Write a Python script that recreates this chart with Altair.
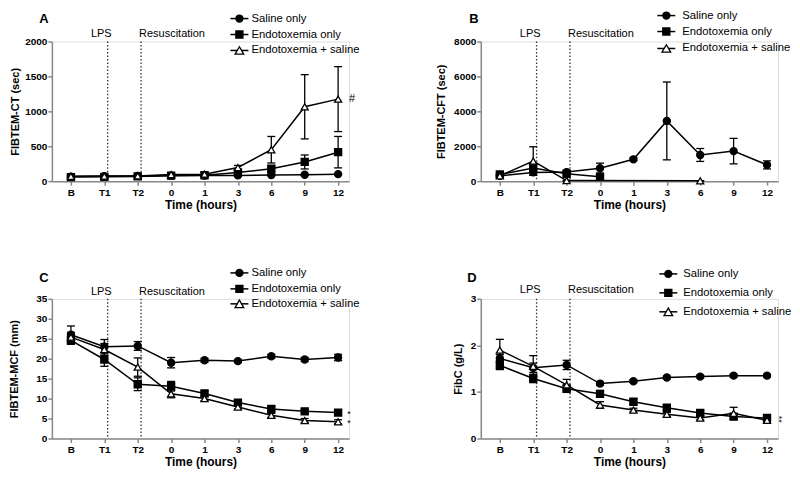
import altair as alt
import pandas as pd

# ---------------- data ----------------
time_labels = ["B", "T1", "T2", "0", "1", "3", "6", "9", "12"]
series_names = ["Saline only", "Endotoxemia only", "Endotoxemia + saline"]

# Panel A: FIBTEM-CT (sec)
ct_saline = [65, 70, 75, 80, 80, 82, 88, 92, 100]
ct_saline_sd = [15, 12, 12, 12, 10, 10, 10, 10, 10]
ct_endo = [58, 62, 68, 78, 85, 125, 178, 275, 415]
ct_endo_sd = [15, 12, 12, 15, 15, 25, 40, 100, 225]
ct_es = [70, 72, 75, 95, 100, 195, 450, 1065, 1175]
ct_es_sd = [20, 15, 15, 20, 25, 30, 190, 460, 465]

# Panel B: FIBTEM-CFT (sec)
cft_saline = [300, 500, 520, 740, 1250, 3450, 1500, 1720, 930]
cft_saline_sd = [80, 150, 100, 290, 80, 2230, 370, 730, 230]
cft_endo = [380, 750, 420, 250, None, None, None, None, None]
cft_endo_sd = [60, 250, 100, 80, None, None, None, None, None]
cft_es = [300, 1150, 30, None, None, None, 20, None, None]
cft_es_sd = [60, 820, 20, None, None, None, 10, None, None]

# Panel C: FIBTEM-MCF (mm)
mcf_saline = [26.0, 23.0, 23.2, 19.0, 19.6, 19.4, 20.6, 19.8, 20.3]
mcf_saline_sd = [2.2, 1.8, 1.1, 1.3, 0.5, 0.4, 0.5, 0.5, 0.8]
mcf_endo = [24.6, 19.8, 13.6, 13.1, 11.3, 9.0, 7.4, 6.8, 6.5]
mcf_endo_sd = [1.0, 1.7, 1.6, 1.2, 0.6, 0.6, 0.6, 0.5, 0.6]
mcf_es = [25.4, 22.3, 17.9, 11.2, 10.0, 7.9, 5.8, 4.5, 4.2]
mcf_es_sd = [1.2, 1.5, 2.3, 1.0, 0.5, 0.5, 0.5, 0.5, 0.5]

# Panel D: FibC (g/L)
fib_saline = [1.72, 1.52, 1.58, 1.18, 1.23, 1.31, 1.33, 1.35, 1.35]
fib_saline_sd = [0.08, 0.10, 0.10, 0.04, 0.03, 0.03, 0.03, 0.03, 0.03]
fib_endo = [1.57, 1.29, 1.07, 0.96, 0.79, 0.66, 0.55, 0.47, 0.44]
fib_endo_sd = [0.09, 0.09, 0.08, 0.07, 0.06, 0.05, 0.05, 0.05, 0.05]
fib_es = [1.90, 1.55, 1.15, 0.72, 0.61, 0.52, 0.44, 0.54, 0.39]
fib_es_sd = [0.23, 0.23, 0.12, 0.07, 0.04, 0.04, 0.04, 0.13, 0.04]

event_x = [1.1, 2.1]          # LPS, Resuscitation (between time points)
event_labels = ["LPS", "Resuscitation"]

# ---------------- style ----------------
FONT = "Liberation Sans"
W, H = 298, 140
XDOM = [-0.57, 8.33]
shapes = ["circle", "square", "triangle-up"]
fills = ["black", "black", "white"]
sizes = [50, 50, 75]

label_expr = "[" + ",".join("'%s'" % l for l in time_labels) + "][datum.value]"


def make_df(means, sds):
    rows = []
    for s, m, sd in zip(series_names, means, sds):
        for i, (mv, sv) in enumerate(zip(m, sd)):
            if mv is None:
                continue
            rows.append(dict(series=s, t=i, mean=mv, sd=sv))
    return pd.DataFrame(rows)


def panel(letter, means, sds, ytitle, ymax, ystep, title_x, leg, letter_pos, ev_y, annots):
    df = make_df(means, sds)
    xscale = alt.Scale(domain=XDOM, nice=False, zero=False)
    xaxis = alt.Axis(values=list(range(len(time_labels))), labelExpr=label_expr,
                     title="Time (hours)", grid=False, tickSize=4, labelPadding=2,
                     titlePadding=2, labelFontSize=10, labelFontWeight="bold",
                     titleFontSize=12, titleFontWeight="bold", domainWidth=1.5,
                     tickWidth=1.5, labelAngle=0)
    yscale = alt.Scale(domain=[0, ymax], nice=False, zero=True)
    nticks = int(round(ymax / ystep))
    yvals = [ystep * k for k in range(nticks + 1)]
    yaxis = alt.Axis(values=yvals, title=ytitle, grid=False, tickSize=4, labelPadding=1,
                     labelFontSize=10, labelFontWeight="bold", titleFontSize=11,
                     titleFontWeight="bold", titleX=title_x, titleY=H / 2, titleAngle=270,
                     titleAlign="center", titleBaseline="middle", domainWidth=1.5,
                     tickWidth=1.5, format="d")

    def X(f):
        return alt.X(f, scale=xscale, axis=xaxis)

    def Y(f):
        return alt.Y(f, scale=yscale, axis=yaxis)

    shape_enc = alt.Shape("series:N", scale=alt.Scale(domain=series_names, range=shapes), legend=None)
    fill_enc = alt.Fill("series:N", scale=alt.Scale(domain=series_names, range=fills), legend=None)
    size_enc = alt.Size("series:N", scale=alt.Scale(domain=series_names, range=sizes), legend=None)

    base = alt.Chart(df)
    ev_df = pd.DataFrame({"x": event_x, "label": event_labels})

    layers = []
    # event dotted lines
    layers.append(alt.Chart(ev_df).mark_rule(color="#333333", strokeWidth=1.3, strokeDash=[1.5, 2]).encode(
        x=X("x:Q"), y=alt.value(0), y2=alt.value(H)))
    # lines
    layers.append(base.mark_line(color="black", strokeWidth=1.5).encode(
        x=X("t:Q"), y=Y("mean:Q"), detail="series:N", order="t:Q"))
    # error bars
    eb = base.transform_calculate(lo="datum.mean - datum.sd", hi="datum.mean + datum.sd",
                                  xl="datum.t - 0.12", xr="datum.t + 0.12")
    layers.append(eb.mark_rule(color="black", strokeWidth=1.3).encode(
        x=X("t:Q"), y=Y("lo:Q"), y2="hi:Q"))
    layers.append(eb.mark_rule(color="black", strokeWidth=1.3).encode(
        x=X("xl:Q"), x2="xr:Q", y=Y("hi:Q")))
    layers.append(eb.mark_rule(color="black", strokeWidth=1.3).encode(
        x=X("xl:Q"), x2="xr:Q", y=Y("lo:Q")))
    # markers
    layers.append(base.mark_point(stroke="black", strokeWidth=1.3, opacity=1, fillOpacity=1).encode(
        x=X("t:Q"), y=Y("mean:Q"), shape=shape_enc, fill=fill_enc, size=size_enc))
    # event labels
    layers.append(alt.Chart(ev_df.iloc[[0]]).mark_text(font=FONT, fontSize=11, align="right",
                                                       baseline="middle", dx=4, color="black").encode(
        x=X("x:Q"), y=alt.value(ev_y), text="label:N"))
    layers.append(alt.Chart(ev_df.iloc[[1]]).mark_text(font=FONT, fontSize=11, align="left",
                                                       baseline="middle", dx=-2, color="black").encode(
        x=X("x:Q"), y=alt.value(ev_y), text="label:N"))
    # annotations
    for (ti, val, txt, dx, dy, ang) in annots:
        adf = pd.DataFrame({"t": [ti], "mean": [val], "label": [txt]})
        layers.append(alt.Chart(adf).mark_text(font=FONT, fontSize=11 if txt == "#" else 9,
                                               align="center", baseline="middle", dx=dx, dy=dy,
                                               angle=ang, color="black").encode(
            x=X("t:Q"), y=Y("mean:Q"), text="label:N"))
    # legend (manual, GraphPad style)
    sym_c, text_x, rows = leg
    for i, name in enumerate(series_names):
        ldf = pd.DataFrame({"name": [name]})
        lc = alt.Chart(ldf)
        layers.append(lc.mark_rule(color="black", strokeWidth=1.5).encode(
            x=alt.value(sym_c - 9), x2=alt.value(sym_c + 9), y=alt.value(rows[i])))
        layers.append(lc.mark_point(shape=shapes[i], fill=fills[i], stroke="black", strokeWidth=1.3,
                                    size=sizes[i], opacity=1, fillOpacity=1).encode(
            x=alt.value(sym_c), y=alt.value(rows[i])))
        layers.append(lc.mark_text(font=FONT, fontSize=11.3, align="left", baseline="middle",
                                   color="black").encode(
            x=alt.value(text_x), y=alt.value(rows[i]), text="name:N"))
    # panel letter
    layers.append(alt.Chart(pd.DataFrame({"l": [letter]})).mark_text(
        font=FONT, fontSize=13, fontWeight="bold", align="center", baseline="middle", color="black").encode(
        x=alt.value(letter_pos[0]), y=alt.value(letter_pos[1]), text="l:N"))

    return alt.layer(*layers).properties(width=W, height=H)


pA = panel("A", [ct_saline, ct_endo, ct_es], [ct_saline_sd, ct_endo_sd, ct_es_sd],
           "FIBTEM-CT (sec)", 2000, 500, -36, (188, 200, [-23, -7, 9]), (-8, -23), -8,
           [(8, 1175, "#", 14, 0, 0)])
pB = panel("B", [cft_saline, cft_endo, cft_es], [cft_saline_sd, cft_endo_sd, cft_es_sd],
           "FIBTEM-CFT (sec)", 8000, 2000, -39, (186, 202, [-26, -10, 7]), (-7, -23), -8, [])
pC = panel("C", [mcf_saline, mcf_endo, mcf_es], [mcf_saline_sd, mcf_endo_sd, mcf_es_sd],
           "FIBTEM-MCF (mm)", 35, 5, -37, (188, 200, [-26, -10, 5]), (-8, -21), -7,
           [(8, 6.5, "*", 11, 1, 0), (8, 4.2, "*", 11, 1, 0)])
pD = panel("D", [fib_saline, fib_endo, fib_es], [fib_saline_sd, fib_endo_sd, fib_es_sd],
           "FibC (g/L)", 3, 1, -22, (188, 203, [-25, -6, 13]), (-9, -21), -9,
           [(8, 0.415, "**", 0, -12, 90)])

chart = alt.concat(pA, pB, pC, pD, columns=2, spacing={"row": 118, "column": 132},
                   bounds="flush").properties(
    padding={"left": 0, "top": 0, "right": 0, "bottom": 0}
).configure_view(stroke=None).configure_axis(
    labelFont=FONT, titleFont=FONT, labelColor="black", titleColor="black",
    domainColor="black", tickColor="black"
).configure(background="white")

chart.save("out.html", embed_options={"renderer": "svg", "actions": False})
